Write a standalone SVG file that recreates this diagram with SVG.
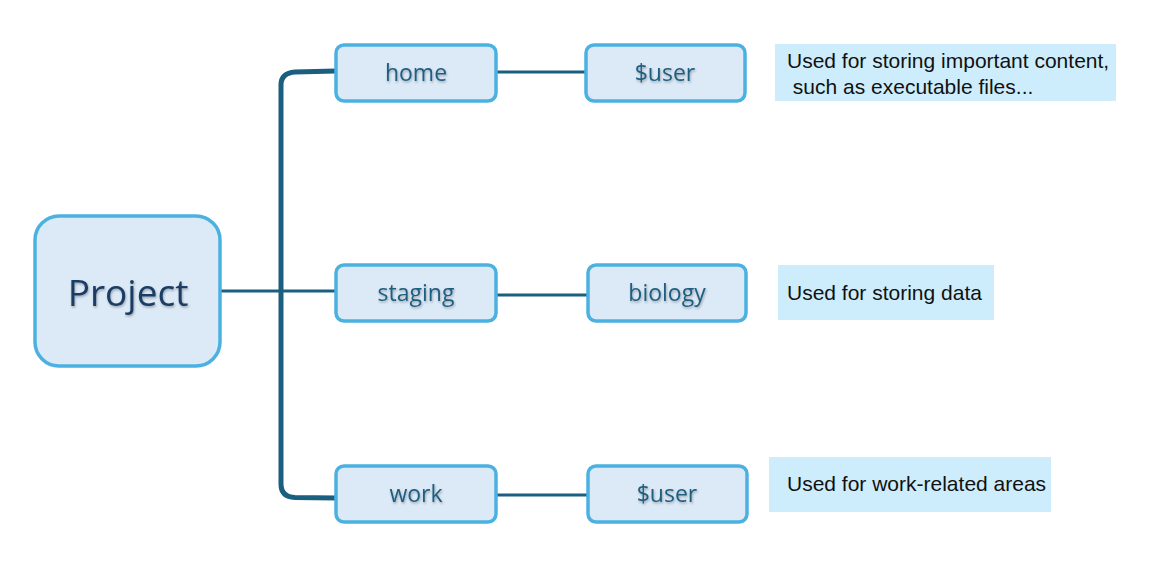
<svg xmlns="http://www.w3.org/2000/svg" width="1165" height="587" viewBox="0 0 1165 587">
<defs>
<filter id="sh" x="-10%" y="-20%" width="130%" height="150%"><feDropShadow dx="0.8" dy="1.5" stdDeviation="0.9" flood-color="#000" flood-opacity="0.3"/></filter>
</defs>
<style>
.node{fill:#DCE9F6;stroke:#4BB1E1;stroke-width:3.5}
.lbl{font-family:"Open Sans","Liberation Sans",sans-serif;font-size:23px;fill:#1F5E80;text-anchor:middle;filter:url(#sh)}
.big{font-family:"Open Sans","Liberation Sans",sans-serif;font-size:37px;fill:#1B3D63;text-anchor:middle;filter:url(#sh)}
.note{fill:#CDEDFC}
.nt{font-family:"Liberation Sans",Arial,sans-serif;font-size:21px;fill:#111;white-space:pre}
.c{fill:none;stroke:#1A5E80;stroke-width:3}
.trunk{fill:none;stroke:#1A5E80;stroke-width:5}
</style>
<rect width="1165" height="587" fill="#fff"/>
<g id="connectors">
<path class="trunk" d="M336,71 L295,72 Q281,73 281,85 L281,484 Q281,497 295,497.5 L336,498"/>
<line class="c" x1="220" y1="291" x2="336" y2="291"/>
<line class="c" x1="496" y1="72" x2="586" y2="72"/>
<line class="c" x1="496" y1="295" x2="588" y2="295"/>
<line class="c" x1="496" y1="495" x2="588" y2="495"/>
</g>
<g id="project"><rect class="node" x="35" y="216" width="185" height="150" rx="24"/><text class="big" x="128" y="306">Project</text></g>
<g id="home"><rect class="node" x="336" y="45" width="160" height="56" rx="8"/><text class="lbl" x="416" y="81">home</text></g>
<g id="user1"><rect class="node" x="586" y="45" width="159" height="56" rx="8"/><text class="lbl" x="665" y="81">$user</text></g>
<g id="staging"><rect class="node" x="336" y="265" width="160" height="56" rx="8"/><text class="lbl" x="416" y="301">staging</text></g>
<g id="biology"><rect class="node" x="588" y="265" width="158" height="56" rx="8"/><text class="lbl" x="667" y="301">biology</text></g>
<g id="work"><rect class="node" x="336" y="466" width="160" height="56" rx="8"/><text class="lbl" x="416" y="502">work</text></g>
<g id="user2"><rect class="node" x="588" y="466" width="159" height="56" rx="8"/><text class="lbl" x="667" y="502">$user</text></g>
<g id="note1"><rect class="note" x="775" y="44" width="341" height="57"/><text class="nt" x="787" y="68">Used for storing important content,</text><text class="nt" x="787" y="94" xml:space="preserve"> such as executable files...</text></g>
<g id="note2"><rect class="note" x="778" y="265" width="216" height="55"/><text class="nt" x="787" y="300">Used for storing data</text></g>
<g id="note3"><rect class="note" x="769" y="457" width="282" height="55"/><text class="nt" x="787" y="491">Used for work-related areas</text></g>
</svg>
